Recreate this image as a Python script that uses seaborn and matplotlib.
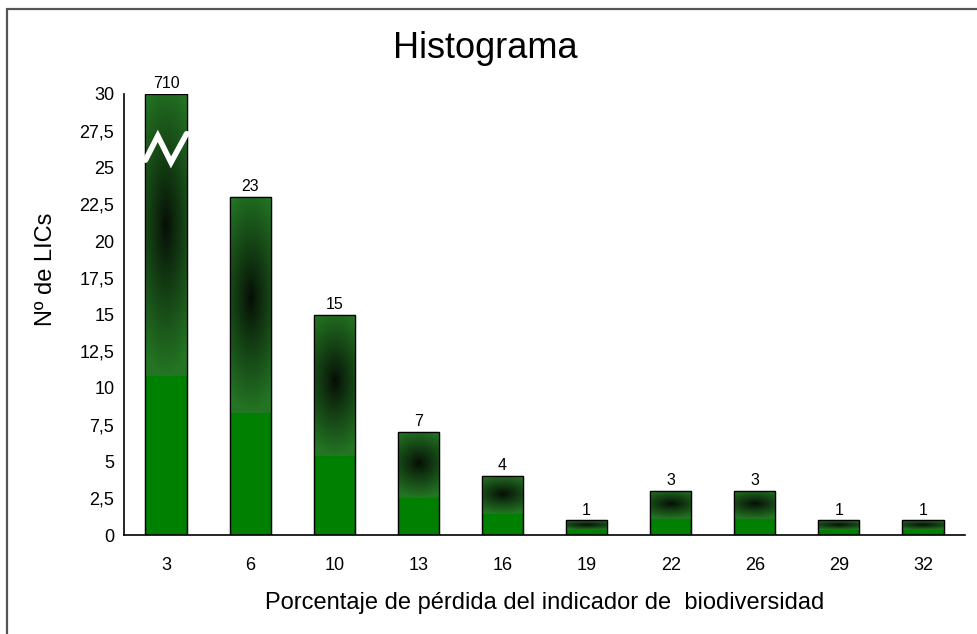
import numpy as np
import pandas as pd
import matplotlib
matplotlib.use("Agg")
import matplotlib.pyplot as plt
from matplotlib.lines import Line2D
from matplotlib.ticker import FuncFormatter, FixedLocator
import seaborn as sns

# data
categorias = ["3", "6", "10", "13", "16", "19", "22", "26", "29", "32"]
n_lics = [710, 23, 15, 7, 4, 1, 3, 3, 1, 1]
y_max = 30  # the first bar is cut at the top of the axis

sns.set_style("white")
plt.rcParams['font.family'] = ['Liberation Sans', 'DejaVu Sans']
plt.rcParams.update({"text.color": "black", "axes.labelcolor": "black",
                     "xtick.color": "black", "ytick.color": "black"})

df = pd.DataFrame({"pct": categorias, "n": n_lics})
df["alto"] = df["n"].clip(upper=y_max)

fig = plt.figure(figsize=(9.78, 6.34), dpi=100)
ax = fig.add_axes([124 / 978, 1 - 535 / 634, (965 - 124) / 978, (535 - 94) / 634])

sns.barplot(data=df, x="pct", y="alto", color="#008000", saturation=1,
            width=0.49, edgecolor="black", linewidth=0.9, ax=ax)

# dark radial shading in the upper part of every bar
gy, gx = np.mgrid[-1:1:200j, -1:1:100j]
green = np.array([0.14, 0.46, 0.14])
dark = np.array([0.02, 0.05, 0.02])
for p in ax.patches:
    x0, w, h = p.get_x(), p.get_width(), p.get_height()
    y0 = 0.36 * h
    cy = (0.70 * h - y0) / (h - y0) * 2 - 1
    d = np.sqrt((0.55 * gx) ** 2 + ((gy - cy) / (1 + abs(cy))) ** 2)
    t = np.clip(d, 0, 1) ** 0.9
    img = dark + (green - dark) * t[..., None]
    im = ax.imshow(img, extent=(x0, x0 + w, y0, h), origin="lower",
                   aspect="auto", interpolation="bilinear", zorder=2)
    im.set_clip_path(p)
    p.set_zorder(1)
    edge = plt.Rectangle((x0, 0), w, h, fill=False, edgecolor="black",
                         linewidth=0.9, zorder=3)
    ax.add_patch(edge)

# break mark on the cut bar
p0 = ax.patches[0]
bx = p0.get_x() + p0.get_width() * np.array([0.0, 0.3, 0.62, 1.0])
by = y_max * np.array([0.85, 0.905, 0.845, 0.91])
ax.plot(bx, by, color="white", linewidth=4, solid_joinstyle="miter", zorder=4)

ax.bar_label(ax.containers[0], labels=[str(v) for v in n_lics],
             padding=2, fontsize=11.5)

ax.set_xlim(-0.5, len(categorias) - 0.5)
ax.set_ylim(0, y_max)
ax.set_yticks(np.arange(0, y_max + 0.1, 2.5))
ax.yaxis.set_major_formatter(FuncFormatter(lambda v, _: f"{v:g}".replace(".", ",")))
ax.tick_params(axis="y", length=0, pad=7, labelsize=13)
ax.tick_params(axis="x", which="major", length=0, pad=16, labelsize=13)
ax.xaxis.set_minor_locator(FixedLocator(np.arange(-0.5, len(categorias) - 1, 1)))
ax.tick_params(axis="x", which="minor", length=6, width=0.8, color="#555555",
               direction="out")

for s in ["top", "right"]:
    ax.spines[s].set_visible(False)
for s in ["left", "bottom"]:
    ax.spines[s].set_color("black")
    ax.spines[s].set_linewidth(1.2)

ax.set_xlabel("Porcentaje de pérdida del indicador de  biodiversidad", fontsize=17)
ax.set_ylabel("Nº de LICs", fontsize=17)
ax.xaxis.set_label_coords(0.5, -0.13)
ax.yaxis.set_label_coords(-0.08, 0.603)

fig.text(0.496, 1 - 48 / 634, "Histograma", fontsize=26, ha="center", va="center")

# outer chart frame (left and top visible)
fx, fy = 7 / 978, 1 - 9 / 634
fig.add_artist(Line2D([fx, fx], [0, fy], color="#555555", linewidth=1.6))
fig.add_artist(Line2D([fx, 1], [fy, fy], color="#555555", linewidth=1.6))

fig.savefig("out.png", dpi=100)
